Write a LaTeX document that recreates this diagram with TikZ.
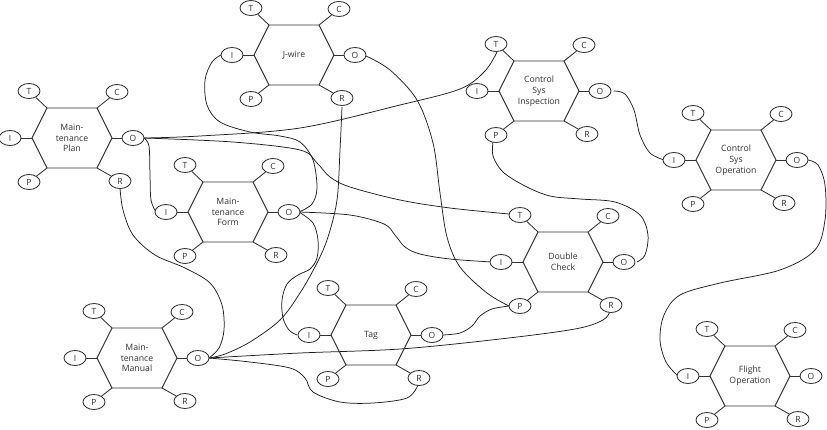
\documentclass[tikz,border=0pt]{standalone}
\usepackage{fontspec}
\setmainfont{Open Sans}
\usetikzlibrary{shapes.geometric}
\definecolor{ink}{HTML}{333333}
\tikzset{
  hexline/.style={draw=ink, line width=0.95pt, line join=miter},
  spoke/.style={draw=ink, line width=0.85pt},
  asp/.style={ellipse, draw=ink, line width=0.85pt, fill=white, minimum width=22pt, minimum height=15pt, inner sep=0pt, font=\fontsize{8.5}{9}\selectfont, text=ink},
  lbl/.style={align=center, font=\fontsize{8.7}{10.8}\selectfont, text=ink},
  conn/.style={draw=black!88, line width=0.75pt}
}
\newcommand\framfn[4]{%
  \begin{scope}[shift={(#2,#3)}]
    \draw[hexline] (-40,0) -- (-25,-30) -- (25,-30) -- (40,0) -- (25,30) -- (-25,30) -- cycle;
    \node[lbl] (#1) at (0,0) {#4};
    \node[asp] (#1T) at (-43,-47) {T};
    \node[asp] (#1C) at (45,-46) {C};
    \node[asp] (#1I) at (-62,0) {I};
    \node[asp] (#1O) at (61,0) {O};
    \node[asp] (#1P) at (-43,44) {P};
    \node[asp] (#1R) at (48,43) {R};
    \draw[spoke] (-25,-30) -- (#1T);
    \draw[spoke] (25,-30) -- (#1C);
    \draw[spoke] (-40,0) -- (#1I);
    \draw[spoke] (40,0) -- (#1O);
    \draw[spoke] (-25,30) -- (#1P);
    \draw[spoke] (25,30) -- (#1R);
  \end{scope}}
\begin{document}
\begin{tikzpicture}[x=1pt,y=-1pt]
\useasboundingbox (0,0) rectangle (827,429);
% connectors first (under nodes)
\begin{scope}
\draw[conn] plot[smooth, tension=0.55] coordinates {(144,138) (200,136) (300,128) (400,105) (460,89) (485,71) (497,52)};
\draw[conn] plot[smooth, tension=0.55] coordinates {(144,138) (149,146) (150,175) (151,200) (156,212)};
\draw[conn] plot[smooth, tension=0.55] coordinates {(144,138) (233,142) (300,150) (317,163) (330,177) (350,187) (400,200) (450,208) (509,214)};
\draw[conn] plot[smooth, tension=0.55] coordinates {(299,212) (312,204) (317,188) (313,160) (300,142) (280,136) (250,132) (220,122) (207,105) (205,80) (212,62) (221,55)};
\draw[conn] plot[smooth, tension=0.55] coordinates {(299,212) (350,215) (384,224) (395,235) (405,247) (420,254) (450,259) (492,262)};
\draw[conn] plot[smooth, tension=0.55] coordinates {(299,212) (313,223) (318,240) (317,258) (310,269) (298,275) (287,284) (282,300) (283,318) (289,330) (297,335)};
\draw[conn] plot[smooth, tension=0.55] coordinates {(209,358) (219,348) (224,330) (222,305) (210,283) (185,268) (155,255) (133,235) (123,210) (120,188)};
\draw[conn] plot[smooth, tension=0.55] coordinates {(209,358) (225,354) (250,342) (280,320) (300,293) (317,263) (328,237) (337,200) (340,150) (342,107)};
\draw[conn] plot[smooth, tension=0.55] coordinates {(209,358) (300,353) (400,349) (500,339) (575,329) (603,320) (610,311)};
\draw[conn] plot[smooth, tension=0.55] coordinates {(209,358) (250,362) (290,368) (305,378) (313,392) (340,402) (373,403) (407,398) (418,385)};
\draw[conn] plot[smooth, tension=0.55] coordinates {(366,56) (390,70) (417,100) (433,143) (440,193) (447,237) (460,267) (487,293) (509,306)};
\draw[conn] plot[smooth, tension=0.55] coordinates {(443,335) (460,333) (472,326) (480,316) (492,309) (509,306)};
\draw[conn] plot[smooth, tension=0.55] coordinates {(637,262) (645,255) (648,235) (640,215) (615,202) (580,199) (550,196) (525,186) (503,172) (493,156) (493,142)};
\draw[conn] plot[smooth, tension=0.55] coordinates {(614,91) (625,94) (634,110) (640,135) (650,153) (664,160)};
\draw[conn] plot[smooth, tension=0.55] coordinates {(808,160) (818,165) (825,185) (825,220) (815,250) (780,270) (720,283) (680,295) (664,315) (660,340) (666,362) (678,376)};
\end{scope}
\framfn{MP}{72}{138}{Main-\\tenance\\Plan}
\framfn{JW}{294}{55}{J-wire}
\framfn{CSI}{539}{91}{Control\\Sys\\Inspection}
\framfn{CSO}{736}{160}{Control\\Sys\\Operation}
\framfn{MF}{228}{212}{Main-\\tenance\\Form}
\framfn{DC}{563}{262}{Double\\Check}
\framfn{MM}{137}{358}{Main-\\tenance\\Manual}
\framfn{TG}{371}{335}{Tag}
\framfn{FO}{750}{376}{Flight\\Operation}
\end{tikzpicture}
\end{document}
